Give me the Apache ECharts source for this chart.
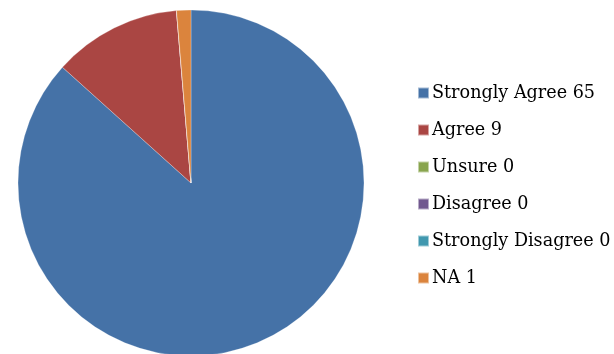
<!DOCTYPE html>
<html>
<head>
<meta charset="utf-8">
<script src="https://cdn.jsdelivr.net/npm/echarts@6/dist/echarts.min.js"></script>
<style>
  html, body { margin: 0; padding: 0; background: #fff; }
  #chart { width: 614px; height: 354px; }
</style>
</head>
<body>
<div id="chart"></div>
<script>
// Survey responses
const categories = ['Strongly Agree', 'Agree', 'Unsure', 'Disagree', 'Strongly Disagree', 'NA'];
const counts = [65, 9, 0, 0, 0, 1];
const colors = ['#4572A7', '#AA4643', '#89A54E', '#71588F', '#4198AF', '#DB843D'];

const chart = echarts.init(document.getElementById('chart'), null, { renderer: 'canvas' });

const pieData = categories.map((name, i) => ({
  name: name,
  value: counts[i],
  itemStyle: { color: colors[i] }
}));

chart.setOption({
  animation: false,
  legend: {
    orient: 'vertical',
    left: 412,
    top: 78,
    itemWidth: 11,
    itemHeight: 11,
    itemGap: 17,
    icon: 'rect',
    data: categories,
    formatter: function (name) {
      return name + ' ' + counts[categories.indexOf(name)];
    },
    textStyle: {
      fontFamily: 'DejaVu Serif',
      fontSize: 17.6,
      color: '#000',
      lineHeight: 20,
      padding: [0, 0, 0, -2]
    }
  },
  series: [{
    type: 'pie',
    center: [191, 183],
    radius: [0, 173],
    startAngle: 90,
    clockwise: true,
    label: { show: false },
    labelLine: { show: false },
    emphasis: { disabled: true },
    itemStyle: { borderColor: 'rgba(255,255,255,0.5)', borderWidth: 0.5 },
    data: pieData
  }]
});
</script>
</body>
</html>
